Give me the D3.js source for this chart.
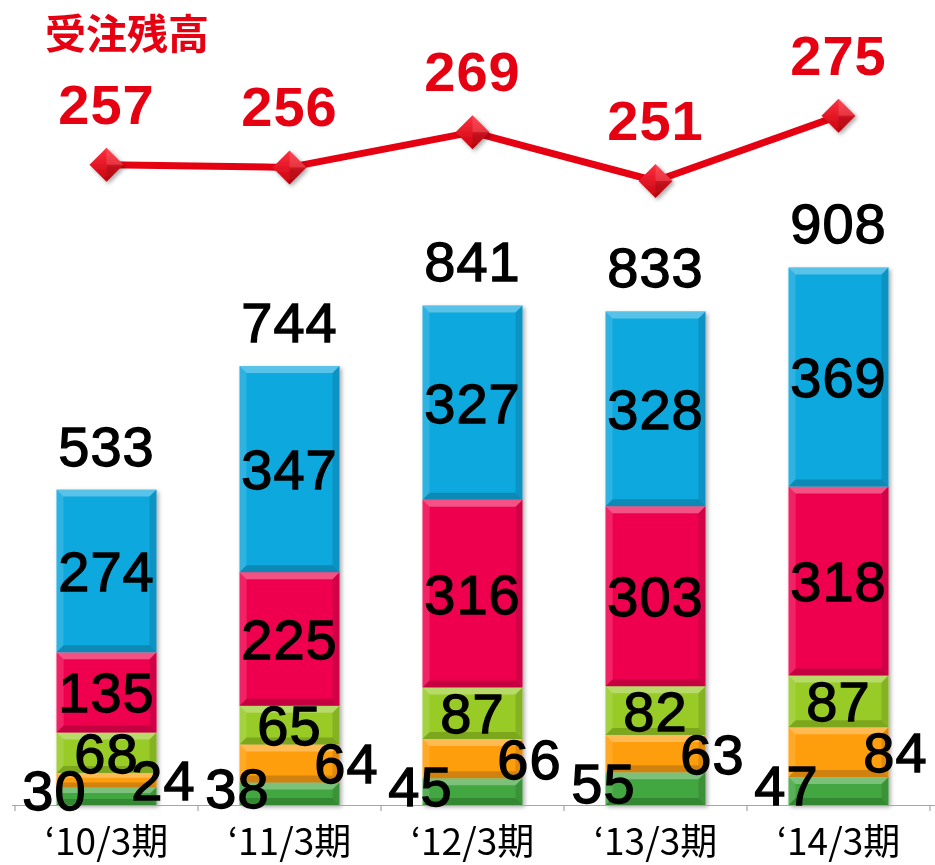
<!DOCTYPE html>
<html>
<head>
<meta charset="utf-8">
<script src="https://cdn.jsdelivr.net/npm/d3@7"></script>
<style>
  html, body { margin: 0; padding: 0; background: #fff; }
  svg { display: block; }
</style>
</head>
<body>
<div id="chart"></div>
<script>
// data
const periods = ['‘10/3期', '‘11/3期', '‘12/3期', '‘13/3期', '‘14/3期'];
const green = [30, 38, 45, 55, 47];
const orange = [24, 64, 66, 63, 84];
const yellowGreen = [68, 65, 87, 82, 87];
const crimson = [135, 225, 316, 303, 318];
const blue = [274, 347, 327, 328, 369];
const totals = [533, 744, 841, 833, 908];
const backlog = [257, 256, 269, 251, 275];
const backlogTitle = '受注残高';

const keys = ['green', 'orange', 'yellowGreen', 'crimson', 'blue'];
const colors = {
  green: '#43a73f',
  orange: '#ff9e0a',
  yellowGreen: '#98cb26',
  crimson: '#ef0650',
  blue: '#10a8de'
};

const rows = periods.map((p, i) => ({
  period: p,
  green: green[i], orange: orange[i], yellowGreen: yellowGreen[i],
  crimson: crimson[i], blue: blue[i], total: totals[i], backlog: backlog[i]
}));

const width = 935, height = 865;
const svg = d3.select('#chart').append('svg')
  .attr('width', width)
  .attr('height', height);

const defs = svg.append('defs');
const shadow = defs.append('filter').attr('id', 'shadow')
  .attr('x', '-20%').attr('y', '-20%').attr('width', '140%').attr('height', '140%');
shadow.append('feDropShadow')
  .attr('dx', 2).attr('dy', 2).attr('stdDeviation', 2)
  .attr('flood-color', '#000').attr('flood-opacity', 0.35);

const diaGrad = defs.append('linearGradient').attr('id', 'dia')
  .attr('x1', 0).attr('y1', 0).attr('x2', 0).attr('y2', 1);
diaGrad.append('stop').attr('offset', '0%').attr('stop-color', '#ff3040');
diaGrad.append('stop').attr('offset', '100%').attr('stop-color', '#c8000c');

// scales
const x = d3.scaleBand()
  .domain(periods)
  .range([15, 930])
  .padding(0);
const barW = 100;

const y = d3.scaleLinear()
  .domain([0, 1000])
  .range([805, 211]);

const yLine = d3.scaleLinear()
  .domain([230, 300])
  .range([238, 48]);

const stack = d3.stack().keys(keys);
const stacked = stack(rows);

const numFont = '"Liberation Sans", Arial, sans-serif';
const jpFont = '"Noto Sans CJK JP", sans-serif';

// bars
const barsG = svg.append('g').attr('filter', 'url(#shadow)');
stacked.forEach(layer => {
  layer.forEach(d => {
    const cx = x(d.data.period) + x.bandwidth() / 2;
    const x0 = cx - barW / 2;
    const yTop = y(d[1]);
    const h = y(d[0]) - y(d[1]);
    const b = Math.min(7, h / 3);
    const g = barsG.append('g');
    g.append('rect')
      .attr('x', x0).attr('y', yTop)
      .attr('width', barW).attr('height', h)
      .attr('fill', colors[layer.key]);
    // bevel facets
    const facet = (pts, fill, op) => g.append('polygon')
      .attr('points', pts.map(p => p.join(',')).join(' '))
      .attr('fill', fill).attr('opacity', op);
    facet([[x0, yTop], [x0 + barW, yTop], [x0 + barW - b, yTop + b], [x0 + b, yTop + b]], '#fff', 0.3);
    facet([[x0, yTop + h], [x0 + barW, yTop + h], [x0 + barW - b, yTop + h - b], [x0 + b, yTop + h - b]], '#000', 0.18);
    facet([[x0, yTop], [x0 + b, yTop + b], [x0 + b, yTop + h - b], [x0, yTop + h]], '#fff', 0.12);
    facet([[x0 + barW, yTop], [x0 + barW - b, yTop + b], [x0 + barW - b, yTop + h - b], [x0 + barW, yTop + h]], '#000', 0.12);
  });
});

// axis
const axisG = svg.append('g');
axisG.append('line')
  .attr('x1', x.range()[0] - 3).attr('x2', width)
  .attr('y1', y(0) + 0.5).attr('y2', y(0) + 0.5)
  .attr('stroke', '#a6a6a6').attr('stroke-width', 1.2);
const bounds = periods.map(p => x(p)).concat([x.range()[1]]);
axisG.selectAll('.tick')
  .data(bounds)
  .enter().append('line')
  .attr('x1', d => d).attr('x2', d => d)
  .attr('y1', y(0)).attr('y2', y(0) + 6)
  .attr('stroke', '#a6a6a6').attr('stroke-width', 1.2);

axisG.selectAll('.xlabel')
  .data(periods)
  .enter().append('text')
  .attr('x', d => x(d) + x.bandwidth() / 2)
  .attr('y', 855)
  .attr('text-anchor', 'middle')
  .style('font-family', jpFont)
  .style('font-size', '37px')
  .attr('fill', '#000')
  .text(d => d);

// segment labels
const digitHalf = 20;
const numText = sel => sel
  .attr('text-anchor', 'middle')
  .style('font-family', numFont)
  .style('font-size', '56px')
  .style('letter-spacing', '1px');

stacked.forEach(layer => {
  layer.forEach(d => {
    const cx = x(d.data.period) + x.bandwidth() / 2;
    const mid = (y(d[0]) + y(d[1])) / 2;
    let lx = cx, ly = mid + digitHalf;
    if (layer.key === 'green') { lx = cx - barW / 2 - 2; ly -= 6; }
    if (layer.key === 'orange') lx = cx + barW / 2 + 7;
    svg.append('text')
      .attr('x', lx)
      .attr('y', ly)
      .call(numText)
      .attr('fill', '#000')
      .attr('stroke', '#000')
      .attr('stroke-width', 1.3)
      .text(d.data[layer.key]);
  });
});

// totals
svg.selectAll('.total')
  .data(rows)
  .enter().append('text')
  .attr('x', d => x(d.period) + x.bandwidth() / 2)
  .attr('y', d => y(d3.sum(keys, k => d[k])) - 24)
  .call(numText)
  .attr('fill', '#000')
  .attr('stroke', '#000')
  .attr('stroke-width', 1.3)
  .text(d => d.total);

// backlog line
const line = d3.line()
  .x(d => x(d.period) + x.bandwidth() / 2)
  .y(d => yLine(d.backlog));

svg.append('path')
  .datum(rows)
  .attr('d', line)
  .attr('fill', 'none')
  .attr('stroke', '#e50012')
  .attr('stroke-width', 7)
  .attr('stroke-linejoin', 'round');

const r = 17;
const markers = svg.selectAll('.marker')
  .data(rows)
  .enter().append('g')
  .attr('filter', 'url(#shadow)')
  .attr('transform', d => `translate(${x(d.period) + x.bandwidth() / 2},${yLine(d.backlog)})`);
markers.append('path')
  .attr('d', `M0,${-r}L${r},0L0,${r}L${-r},0Z`)
  .attr('fill', 'url(#dia)');
markers.append('path')
  .attr('d', `M0,${-r}L${r},0L0,0Z`)
  .attr('fill', '#fff').attr('opacity', 0.12);
markers.append('path')
  .attr('d', `M0,${r}L${r},0L0,0Z`)
  .attr('fill', '#000').attr('opacity', 0.12);

svg.selectAll('.backlogLabel')
  .data(rows)
  .enter().append('text')
  .attr('x', d => x(d.period) + x.bandwidth() / 2)
  .attr('y', d => yLine(d.backlog) - 41)
  .call(numText)
  .style('font-weight', 'bold')
  .attr('fill', '#e50012')
  .text(d => d.backlog);

svg.append('text')
  .attr('x', 45)
  .attr('y', 49)
  .style('font-family', jpFont)
  .style('font-size', '41px')
  .style('font-weight', 'bold')
  .attr('fill', '#e50012')
  .text(backlogTitle);
</script>
</body>
</html>
